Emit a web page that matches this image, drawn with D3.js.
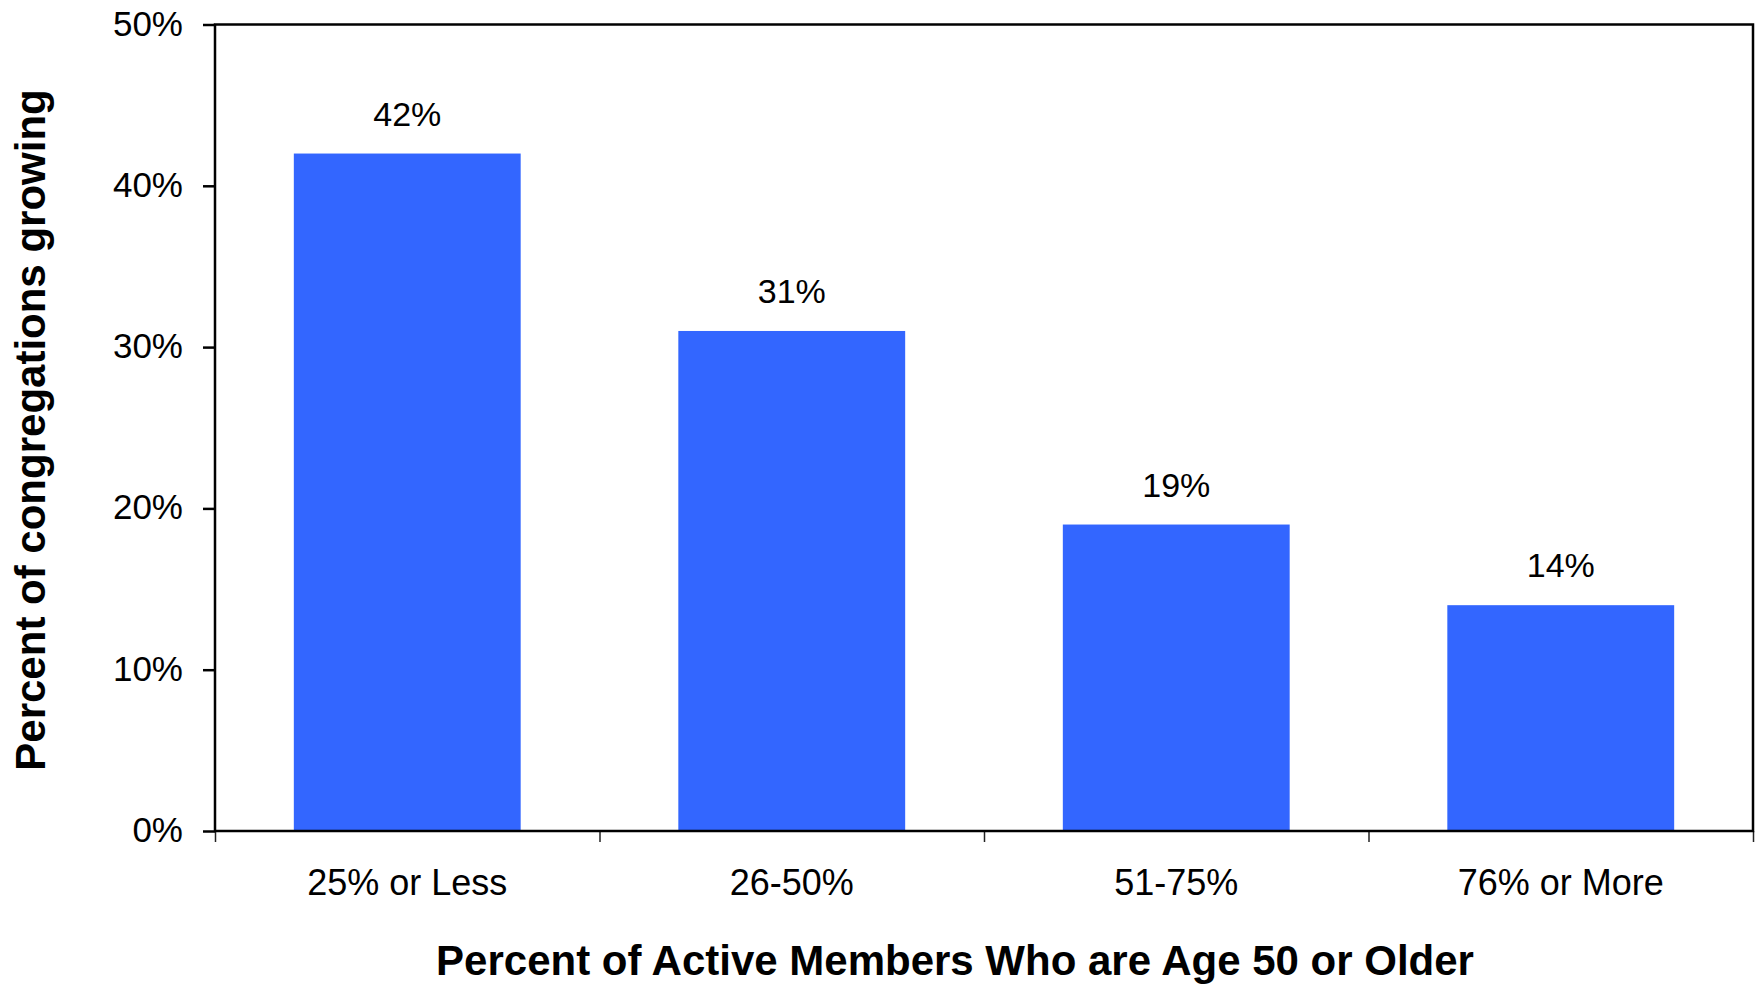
<!DOCTYPE html>
<html>
<head>
<meta charset="utf-8">
<script src="https://cdn.jsdelivr.net/npm/d3@7"></script>
<style>
  html, body { margin: 0; padding: 0; background: #fff; }
  svg { display: block; font-family: "Liberation Sans", Arial, sans-serif; }
</style>
</head>
<body>
<svg id="chart" width="1761" height="985"></svg>
<script>
const categories = ["25% or Less", "26-50%", "51-75%", "76% or More"];
const values = [0.42, 0.31, 0.19, 0.14];
const valueLabels = ["42%", "31%", "19%", "14%"];
const yTicks = [0, 0.1, 0.2, 0.3, 0.4, 0.5];
const xTitle = "Percent of Active Members Who are Age 50 or Older";
const yTitle = "Percent of congregations growing";

(function () {
const svg = d3.select("#chart");
const pLeft = 215, pRight = 1753, pTop = 24.5, pBottom = 831;

const y = d3.scaleLinear().domain([0, 0.5]).range([pBottom, pTop]);
const x = d3.scaleBand().domain(categories).range([pLeft, pRight])
  .paddingInner(0.41).paddingOuter(0.205);

// bars
svg.append("g").selectAll("rect").data(values).join("rect")
  .attr("x", (d, i) => x(categories[i]))
  .attr("y", d => y(d))
  .attr("width", x.bandwidth())
  .attr("height", d => y(0) - y(d))
  .attr("fill", "#3366FF");

// value labels
svg.append("g").selectAll("text").data(values).join("text")
  .attr("x", (d, i) => x(categories[i]) + x.bandwidth() / 2)
  .attr("y", d => y(d) - 28)
  .attr("text-anchor", "middle")
  .attr("font-size", 34)
  .attr("fill", "#000")
  .text((d, i) => valueLabels[i]);

// y axis
const yAxis = d3.axisLeft(y).tickValues(yTicks).tickFormat(d3.format(".0%"))
  .tickSize(12).tickPadding(20);
const gy = svg.append("g").attr("transform", `translate(${pLeft},0)`).call(yAxis);
gy.select(".domain").remove();
gy.selectAll(".tick line").attr("stroke", "#000").attr("stroke-width", 2.5);
gy.selectAll(".tick text").attr("font-size", 35).attr("fill", "#000")
  .attr("font-family", "Liberation Sans, Arial, sans-serif").attr("dy", "0.3em");

// x axis tick marks at band boundaries
const xb = d3.scaleLinear().domain([0, categories.length]).range([pLeft, pRight]);
const gxTicks = svg.append("g").attr("transform", `translate(0,${pBottom})`)
  .call(d3.axisBottom(xb).tickValues(d3.range(categories.length + 1)).tickSize(11).tickFormat(""));
gxTicks.select(".domain").remove();
gxTicks.selectAll(".tick line").attr("stroke", "#222").attr("stroke-width", 1.5);

// x category labels
svg.append("g").selectAll("text").data(categories).join("text")
  .attr("x", d => x(d) + x.bandwidth() / 2)
  .attr("y", 895)
  .attr("text-anchor", "middle")
  .attr("font-size", 36)
  .attr("fill", "#000")
  .text(d => d);

// frame
svg.append("rect")
  .attr("x", pLeft).attr("y", pTop)
  .attr("width", pRight - pLeft).attr("height", pBottom - pTop)
  .attr("fill", "none").attr("stroke", "#000").attr("stroke-width", 2.5);

// axis titles
svg.append("text")
  .attr("x", 955).attr("y", 975)
  .attr("text-anchor", "middle")
  .attr("font-size", 42).attr("font-weight", "bold").attr("fill", "#000")
  .text(xTitle);

svg.append("text")
  .attr("transform", "translate(45,430) rotate(-90)")
  .attr("text-anchor", "middle")
  .attr("font-size", 42).attr("font-weight", "bold").attr("fill", "#000")
  .text(yTitle);
})();
</script>
</body>
</html>
